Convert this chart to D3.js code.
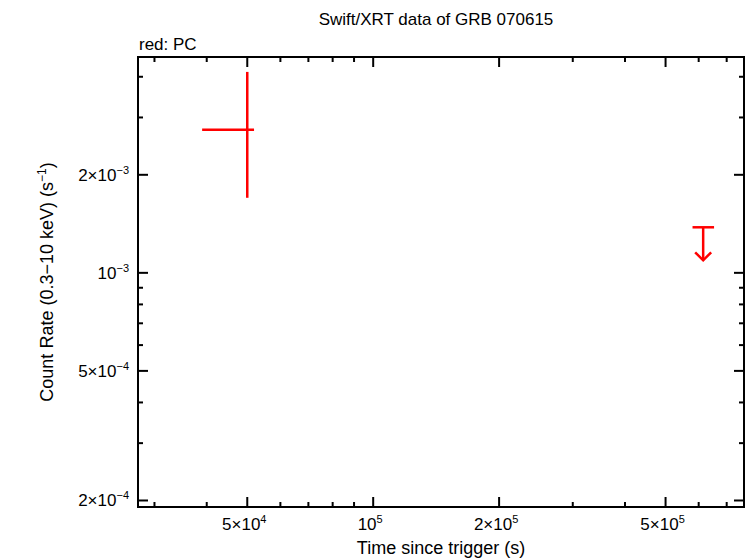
<!DOCTYPE html>
<html><head><meta charset="utf-8">
<script src="https://cdn.jsdelivr.net/npm/d3@7"></script>
<style>body{margin:0;background:#fff}text{font-family:"Liberation Sans",Arial,sans-serif}</style>
</head><body>
<svg id="chart" width="746" height="558"></svg>
<script>
// measured point (PC mode)
const pcX = [5.0e4], pcXLo = [3.9e4], pcXHi = [5.19e4];
const pcY = [2.75e-3], pcYLo = [1.70e-3], pcYHi = [4.14e-3];
// upper limit
const ulX = [6.15e5], ulXLo = [5.8e5], ulXHi = [6.53e5], ulY = [1.38e-3];

const xMajor = [5e4, 1e5, 2e5, 5e5];
const xLabels = [['5×10', '4'], ['10', '5'], ['2×10', '5'], ['5×10', '5']];
const xMinor = [3e4, 4e4, 6e4, 7e4, 8e4, 9e4, 3e5, 4e5, 6e5, 7e5];
const yMajor = [2e-4, 5e-4, 1e-3, 2e-3];
const yLabels = [['2×10', '−4'], ['5×10', '−4'], ['10', '−3'], ['2×10', '−3']];
const yMinor = [3e-4, 4e-4, 6e-4, 7e-4, 8e-4, 9e-4, 3e-3, 4e-3];

const L = 138, R = 744, T = 57, B = 507;
const x = d3.scaleLog().domain([27400, 7.7e5]).range([L, R]);
const y = d3.scaleLog().domain([1.91e-4, 4.6e-3]).range([B, T]);
const svg = d3.select('#chart');

svg.append('rect').attr('x', L).attr('y', T).attr('width', R - L).attr('height', B - T)
  .attr('fill', 'none').attr('stroke', '#000').attr('stroke-width', 2);

function ticks(vals, len) {
  vals.forEach(v => {
    svg.append('line').attr('x1', x(v)).attr('x2', x(v)).attr('y1', B).attr('y2', B - len).attr('stroke', '#000').attr('stroke-width', 2);
    svg.append('line').attr('x1', x(v)).attr('x2', x(v)).attr('y1', T).attr('y2', T + len).attr('stroke', '#000').attr('stroke-width', 2);
  });
}
function yticks(vals, len) {
  vals.forEach(v => {
    svg.append('line').attr('x1', L).attr('x2', L + len).attr('y1', y(v)).attr('y2', y(v)).attr('stroke', '#000').attr('stroke-width', 2);
    svg.append('line').attr('x1', R).attr('x2', R - len).attr('y1', y(v)).attr('y2', y(v)).attr('stroke', '#000').attr('stroke-width', 2);
  });
}
ticks(xMajor, 10); ticks(xMinor, 5);
yticks(yMajor, 10); yticks(yMinor, 5);

function supLabel(t, lab, anchor) {
  t.attr('text-anchor', anchor).attr('font-size', 17);
  t.append('tspan').text(lab[0]);
  t.append('tspan').attr('dy', -7).attr('font-size', 11).text(lab[1]);
}
xMajor.forEach((v, i) => supLabel(svg.append('text').attr('x', x(v) - 3).attr('y', 530), xLabels[i], 'middle'));
yMajor.forEach((v, i) => supLabel(svg.append('text').attr('x', 129).attr('y', y(v) + 6), yLabels[i], 'end'));

svg.append('text').attr('x', 436).attr('y', 25).attr('text-anchor', 'middle').attr('font-size', 17).text('Swift/XRT data of GRB 070615');
svg.append('text').attr('x', 139).attr('y', 50).attr('font-size', 17).text('red: PC');
svg.append('text').attr('x', 441).attr('y', 554).attr('text-anchor', 'middle').attr('font-size', 18).text('Time since trigger (s)');
const yl = svg.append('text').attr('transform', 'translate(53,282) rotate(-90)').attr('text-anchor', 'middle').attr('font-size', 18);
yl.append('tspan').text('Count Rate (0.3−10 keV) (s');
yl.append('tspan').attr('dy', -7).attr('font-size', 12).text('−1');
yl.append('tspan').attr('dy', 7).text(')');

const red = '#ff0000';
pcX.forEach((v, i) => {
  svg.append('line').attr('x1', x(pcXLo[i])).attr('x2', x(pcXHi[i])).attr('y1', y(pcY[i])).attr('y2', y(pcY[i])).attr('stroke', red).attr('stroke-width', 2.5);
  svg.append('line').attr('x1', x(v)).attr('x2', x(v)).attr('y1', y(pcYLo[i])).attr('y2', y(pcYHi[i])).attr('stroke', red).attr('stroke-width', 2.5);
});
ulX.forEach((v, i) => {
  const cx = x(v), cy = y(ulY[i]);
  svg.append('line').attr('x1', x(ulXLo[i])).attr('x2', x(ulXHi[i])).attr('y1', cy).attr('y2', cy).attr('stroke', red).attr('stroke-width', 2.5);
  svg.append('line').attr('x1', cx).attr('x2', cx).attr('y1', cy).attr('y2', cy + 33).attr('stroke', red).attr('stroke-width', 2.5);
  svg.append('path').attr('d', `M${cx - 8},${cy + 25}L${cx},${cy + 33}L${cx + 8},${cy + 25}`).attr('fill', 'none').attr('stroke', red).attr('stroke-width', 2.5);
});
</script>
</body></html>
